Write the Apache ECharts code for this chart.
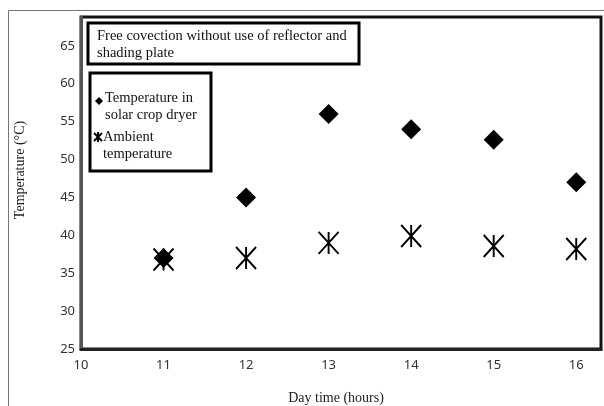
<!DOCTYPE html>
<html>
<head>
<meta charset="utf-8">
<script src="https://cdn.jsdelivr.net/npm/echarts@6/dist/echarts.min.js"></script>
<style>html,body{margin:0;padding:0;background:#fff}#c{width:604px;height:406px}</style>
</head>
<body>
<div id="c"></div>
<script>
var hours = [11, 12, 13, 14, 15, 16];
var dryerTemp = [37, 45, 56, 54, 52.6, 47];
var ambientTemp = [36.8, 37, 39, 39.9, 38.6, 38.2];
var yTicks = [25, 30, 35, 40, 45, 50, 55, 60, 65];
var xTicks = [10, 11, 12, 13, 14, 15, 16];
var titleLines = ['Free covection without use of reflector and', 'shading plate'];
var seriesNames = ['Temperature in\nsolar crop dryer', 'Ambient\ntemperature'];

var starPath = 'path://M0,0L20,22M20,0L0,22M10,0L10,22';
var serif = 'Liberation Serif';
var fSerif = '14.5px "' + serif + '"';

var chart = echarts.init(document.getElementById('c'), null, {renderer: 'canvas'});
chart.setOption({
  animation: false,
  backgroundColor: '#fff',
  grid: {left: 81, right: 3, top: 17, bottom: 57, show: true, borderColor: '#111', borderWidth: 3},
  xAxis: {
    type: 'value', min: 10, max: 16.3, interval: 1,
    axisLine: {show: true, onZero: false, lineStyle: {color: '#222', width: 3}},
    axisTick: {show: false},
    splitLine: {show: false},
    axisLabel: {show: true, margin: 10, color: '#333', fontFamily: 'Noto Sans', fontSize: 13, showMaxLabel: false,
      formatter: function (v) { return xTicks.indexOf(v) >= 0 ? String(v) : ''; }}
  },
  yAxis: {
    type: 'value', min: 25, max: 68.8, interval: 5,
    axisLine: {show: true, onZero: false, lineStyle: {color: '#555', width: 3}},
    axisTick: {show: false},
    splitLine: {show: false},
    axisLabel: {show: true, margin: 6, color: '#333', fontFamily: 'Noto Sans', fontSize: 13, showMaxLabel: false,
      formatter: function (v) { return yTicks.indexOf(v) >= 0 ? String(v) : ''; }}
  },
  series: [
    {
      name: seriesNames[0], type: 'scatter', symbol: 'diamond', symbolSize: 20,
      itemStyle: {color: '#000', opacity: 1},
      data: hours.map(function (h, i) { return [h, dryerTemp[i]]; })
    },
    {
      name: seriesNames[1], type: 'scatter', symbol: starPath, symbolSize: [20, 22],
      itemStyle: {color: 'rgba(0,0,0,0)', borderColor: '#000', borderWidth: 2, opacity: 1},
      data: hours.map(function (h, i) { return [h, ambientTemp[i]]; })
    }
  ],
  graphic: [
    {type: 'line', shape: {x1: 8.5, y1: 10.5, x2: 604, y2: 10.5}, style: {stroke: '#777', lineWidth: 1}, silent: true},
    {type: 'line', shape: {x1: 8.5, y1: 10.5, x2: 8.5, y2: 406}, style: {stroke: '#777', lineWidth: 1}, silent: true},
    {type: 'rect', shape: {x: 88, y: 23, width: 271, height: 41}, style: {fill: '#fff', stroke: '#000', lineWidth: 3}, z: 100},
    {type: 'text', x: 97, y: 27.5, style: {text: titleLines.join('\n'), font: fSerif, fill: '#111', lineHeight: 17, verticalAlign: 'top'}, z: 101},
    {type: 'rect', shape: {x: 90, y: 73, width: 121, height: 98}, style: {fill: '#fff', stroke: '#000', lineWidth: 3}, z: 100},
    {type: 'polygon', shape: {points: [[99, 97], [103, 101], [99, 105], [95, 101]]}, style: {fill: '#000'}, z: 101},
    {type: 'text', x: 105, y: 89.5, style: {text: seriesNames[0], font: fSerif, fill: '#111', lineHeight: 17, verticalAlign: 'top'}, z: 101},
    {type: 'polyline', shape: {points: [[94, 133], [102, 141]]}, style: {stroke: '#000', lineWidth: 2}, z: 101},
    {type: 'polyline', shape: {points: [[102, 133], [94, 141]]}, style: {stroke: '#000', lineWidth: 2}, z: 101},
    {type: 'polyline', shape: {points: [[98, 132], [98, 142]]}, style: {stroke: '#000', lineWidth: 2}, z: 101},
    {type: 'text', x: 103, y: 128.5, style: {text: seriesNames[1], font: fSerif, fill: '#111', lineHeight: 17, verticalAlign: 'top'}, z: 101},
    {type: 'text', x: 20, y: 170, rotation: Math.PI / 2, style: {text: 'Temperature (\u00b0C)', font: '14px "' + serif + '"', fill: '#222', align: 'center', verticalAlign: 'middle'}},
    {type: 'text', x: 336, y: 398, style: {text: 'Day time (hours)', font: '14px "' + serif + '"', fill: '#222', align: 'center', verticalAlign: 'middle'}}
  ]
});
</script>
</body>
</html>
